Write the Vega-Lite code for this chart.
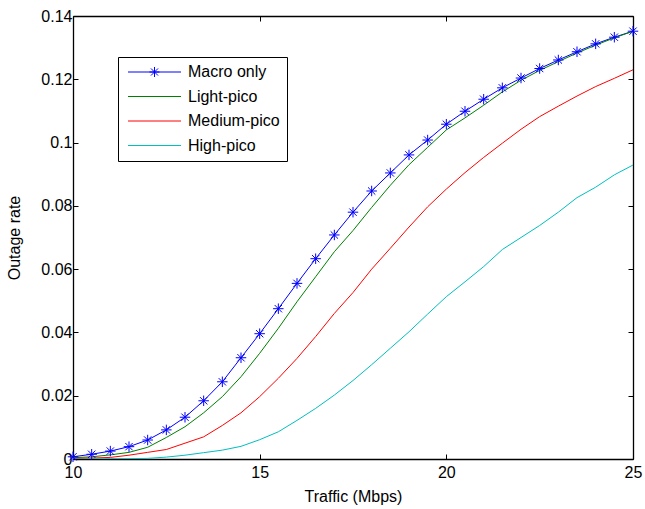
{
  "$schema": "https://vega.github.io/schema/vega-lite/v6.json",
  "width": 560,
  "height": 443,
  "autosize": {"type": "none"},
  "padding": {"left": 73, "top": 16, "right": 12, "bottom": 50},
  "background": "white",
  "config": {
    "view": {"stroke": null},
    "font": "Liberation Sans",
    "axis": {
      "domainColor": "black",
      "domainWidth": 1.3,
      "tickColor": "black",
      "tickSize": -5,
      "tickWidth": 1,
      "labelColor": "black",
      "titleColor": "black",
      "labelFontSize": 16,
      "titleFontSize": 16,
      "titleFontWeight": "normal",
      "labelFont": "Liberation Sans",
      "titleFont": "Liberation Sans",
      "grid": false,
      "labelFlush": false,
      "labelOverlap": false,
      "labelBound": false
    }
  },
  "data": {
    "values": [
      {"t": 10, "Macro only": 0.0007, "Light-pico": 0.0004, "Medium-pico": 0.0002, "High-pico": 0.0000},
      {"t": 10.5, "Macro only": 0.0015, "Light-pico": 0.0007, "Medium-pico": 0.0003, "High-pico": 0.0000},
      {"t": 11, "Macro only": 0.0025, "Light-pico": 0.0013, "Medium-pico": 0.0005, "High-pico": 0.0001},
      {"t": 11.5, "Macro only": 0.0039, "Light-pico": 0.0021, "Medium-pico": 0.0012, "High-pico": 0.0001},
      {"t": 12, "Macro only": 0.0060, "Light-pico": 0.0037, "Medium-pico": 0.0021, "High-pico": 0.0002},
      {"t": 12.5, "Macro only": 0.0092, "Light-pico": 0.0068, "Medium-pico": 0.0030, "High-pico": 0.0006},
      {"t": 13, "Macro only": 0.0132, "Light-pico": 0.0102, "Medium-pico": 0.0050, "High-pico": 0.0012},
      {"t": 13.5, "Macro only": 0.0184, "Light-pico": 0.0146, "Medium-pico": 0.0070, "High-pico": 0.0020},
      {"t": 14, "Macro only": 0.0244, "Light-pico": 0.0197, "Medium-pico": 0.0106, "High-pico": 0.0028},
      {"t": 14.5, "Macro only": 0.0320, "Light-pico": 0.0260, "Medium-pico": 0.0146, "High-pico": 0.0040},
      {"t": 15, "Macro only": 0.0396, "Light-pico": 0.0334, "Medium-pico": 0.0197, "High-pico": 0.0061},
      {"t": 15.5, "Macro only": 0.0475, "Light-pico": 0.0413, "Medium-pico": 0.0255, "High-pico": 0.0086},
      {"t": 16, "Macro only": 0.0555, "Light-pico": 0.0497, "Medium-pico": 0.0318, "High-pico": 0.0122},
      {"t": 16.5, "Macro only": 0.0633, "Light-pico": 0.0576, "Medium-pico": 0.0387, "High-pico": 0.0160},
      {"t": 17, "Macro only": 0.0708, "Light-pico": 0.0655, "Medium-pico": 0.0460, "High-pico": 0.0202},
      {"t": 17.5, "Macro only": 0.0780, "Light-pico": 0.0722, "Medium-pico": 0.0526, "High-pico": 0.0248},
      {"t": 18, "Macro only": 0.0847, "Light-pico": 0.0795, "Medium-pico": 0.0600, "High-pico": 0.0298},
      {"t": 18.5, "Macro only": 0.0904, "Light-pico": 0.0865, "Medium-pico": 0.0666, "High-pico": 0.0350},
      {"t": 19, "Macro only": 0.0961, "Light-pico": 0.0930, "Medium-pico": 0.0733, "High-pico": 0.0402},
      {"t": 19.5, "Macro only": 0.1008, "Light-pico": 0.0985, "Medium-pico": 0.0797, "High-pico": 0.0458},
      {"t": 20, "Macro only": 0.1058, "Light-pico": 0.1040, "Medium-pico": 0.0853, "High-pico": 0.0513},
      {"t": 20.5, "Macro only": 0.1099, "Light-pico": 0.1078, "Medium-pico": 0.0905, "High-pico": 0.0560},
      {"t": 21, "Macro only": 0.1137, "Light-pico": 0.1118, "Medium-pico": 0.0953, "High-pico": 0.0608},
      {"t": 21.5, "Macro only": 0.1173, "Light-pico": 0.1160, "Medium-pico": 0.0998, "High-pico": 0.0662},
      {"t": 22, "Macro only": 0.1204, "Light-pico": 0.1197, "Medium-pico": 0.1042, "High-pico": 0.0700},
      {"t": 22.5, "Macro only": 0.1234, "Light-pico": 0.1228, "Medium-pico": 0.1082, "High-pico": 0.0738},
      {"t": 23, "Macro only": 0.1261, "Light-pico": 0.1256, "Medium-pico": 0.1115, "High-pico": 0.0780},
      {"t": 23.5, "Macro only": 0.1287, "Light-pico": 0.1283, "Medium-pico": 0.1147, "High-pico": 0.0826},
      {"t": 24, "Macro only": 0.1312, "Light-pico": 0.1308, "Medium-pico": 0.1177, "High-pico": 0.0859},
      {"t": 24.5, "Macro only": 0.1333, "Light-pico": 0.1331, "Medium-pico": 0.1203, "High-pico": 0.0898},
      {"t": 25, "Macro only": 0.1352, "Light-pico": 0.1352, "Medium-pico": 0.1230, "High-pico": 0.0929}
    ]
  },
  "transform": [
    {"fold": ["Macro only", "Light-pico", "Medium-pico", "High-pico"], "as": ["series", "rate"]}
  ],
  "layer": [
    {
      "mark": {"type": "line", "strokeWidth": 1, "clip": true},
      "encoding": {
        "x": {
          "field": "t", "type": "quantitative",
          "scale": {"domain": [10, 25], "nice": false, "zero": false},
          "axis": {"orient": "bottom", "title": "Traffic (Mbps)", "values": [10, 15, 20, 25], "labelPadding": 10, "titlePadding": 8}
        },
        "y": {
          "field": "rate", "type": "quantitative",
          "scale": {"domain": [0, 0.14], "nice": false},
          "axis": {"orient": "left", "title": "Outage rate", "values": [0, 0.02, 0.04, 0.06, 0.08, 0.1, 0.12, 0.14], "format": ".2~f", "labelPadding": 6, "titlePadding": 18}
        },
        "color": {
          "field": "series", "type": "nominal",
          "scale": {"domain": ["Macro only", "Light-pico", "Medium-pico", "High-pico"], "range": ["#0000ff", "#008000", "#ff0000", "#00bfbf"]},
          "legend": {
            "orient": "none", "legendX": 45, "legendY": 41, "title": null,
            "strokeColor": "black", "fillColor": "white", "padding": 7,
            "symbolType": "stroke", "symbolSize": 36, "symbolStrokeWidth": 1,
            "labelFontSize": 16, "labelFont": "Liberation Sans", "labelColor": "black",
            "labelOffset": 47, "rowPadding": 8.5, "labelLimit": 300,
            "encode": {"symbols": {"update": {
              "x": {"value": 29.5},
              "shape": {"signal": "datum.value === 'Macro only' ? 'M-8.83,0H8.83M0,-1.67V1.67M-1.67,0H1.67M-1.18,-1.18L1.18,1.18M-1.18,1.18L1.18,-1.18' : 'M-8.83,0H8.83'"}
            }}}
          }
        }
      }
    },
    {
      "transform": [{"filter": "datum.series === 'Macro only'"}],
      "mark": {"type": "point", "shape": "M0,-1V1M-1,0H1M-0.7,-0.7L0.7,0.7M-0.7,0.7L0.7,-0.7", "size": 110, "filled": false, "stroke": "#0000ff", "strokeWidth": 1, "opacity": 1, "clip": false},
      "encoding": {
        "x": {"field": "t", "type": "quantitative", "axis": {"orient": "top", "labels": false, "title": null, "values": [10, 15, 20, 25]}},
        "y": {"field": "rate", "type": "quantitative", "axis": {"orient": "right", "labels": false, "title": null, "values": [0, 0.02, 0.04, 0.06, 0.08, 0.1, 0.12, 0.14]}}
      }
    }
  ]
}
